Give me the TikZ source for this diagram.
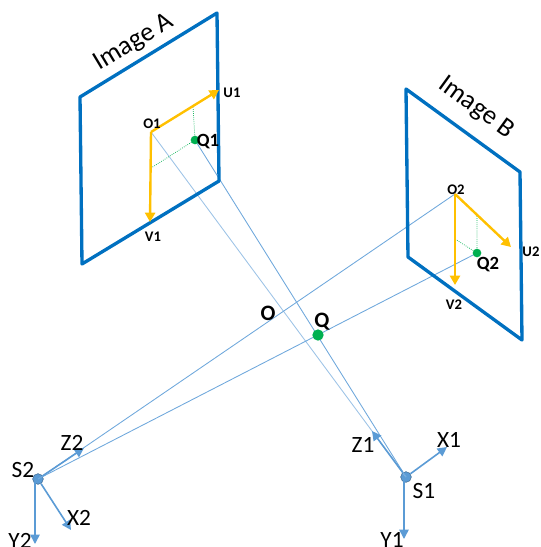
\documentclass[tikz,border=0pt]{standalone}
\usepackage{fontspec}
\setmainfont{Carlito}
\usetikzlibrary{arrows.meta}
\definecolor{panelblue}{HTML}{0070C0}
\definecolor{axisblue}{HTML}{5B9BD5}
\definecolor{rayblue}{HTML}{6FA8DC}
\definecolor{rayfaint}{HTML}{9DC3E6}
\definecolor{uvgold}{HTML}{FFC000}
\definecolor{ptgreen}{HTML}{00B050}
\tikzset{
  panel/.style={draw=panelblue,line width=2.5pt,line join=round},
  uvarrow/.style={draw=uvgold,line width=1.8pt,-{Triangle[length=7pt,width=7.5pt]}},
  guide/.style={draw=ptgreen,line width=0.55pt,densely dotted},
  ray/.style={draw=rayblue,line width=0.65pt},
  rayf/.style={draw=rayfaint,line width=0.65pt},
  axis/.style={draw=axisblue,line width=1.2pt,-{Triangle[length=7pt,width=7pt]}},
  ptdot/.style={circle,fill=ptgreen,inner sep=0pt,minimum size=7.5pt},
  sensor/.style={circle,fill=axisblue,draw=axisblue!70!black,line width=0.4pt,inner sep=0pt,minimum size=8pt},
  big/.style={font=\fontsize{20}{23}\selectfont,inner sep=0pt},
  mid/.style={font=\fontsize{17.5}{20}\selectfont,inner sep=0pt},
  small/.style={font=\bfseries\fontsize{11}{13}\selectfont,inner sep=0pt},
  smallq/.style={font=\bfseries\fontsize{14}{16}\selectfont,inner sep=0pt},
  bigq/.style={font=\bfseries\fontsize{16.5}{19}\selectfont,inner sep=0pt},
}
\begin{document}
\begin{tikzpicture}[x=0.75pt,y=-0.75pt]
\useasboundingbox (0,0) rectangle (540,547);
\clip (0,0) rectangle (540,547);
% panels
\coordinate (A1) at (80,97); \coordinate (A2) at (217,13); \coordinate (A3) at (219,181); \coordinate (A4) at (82,264);
\coordinate (B1) at (406,89); \coordinate (B2) at (520,172); \coordinate (B3) at (522,340); \coordinate (B4) at (408,257);
% image points
\coordinate (O1) at (151,132); \coordinate (U1) at (219,90); \coordinate (V1) at (150,222);
\coordinate (O2) at (455,194); \coordinate (U2) at (511,247); \coordinate (V2) at (455,285);
\coordinate (G1a) at (193,107); \coordinate (G1b) at (151,168);
\coordinate (G2a) at (477,214); \coordinate (G2b) at (455,239);
\node[sensor] (S1) at (406,477) {};
\node[sensor] (S2) at (38,479) {};
\coordinate (Y1s) at (404,480); \coordinate (Y2s) at (35,482);
\coordinate (Z1) at (372,431); \coordinate (X1) at (447,447); \coordinate (Y1) at (404,539);
\coordinate (Z2) at (84,448); \coordinate (X2) at (71,530); \coordinate (Y2) at (35,544);
\coordinate (Q1c) at (195,140); \coordinate (Q2c) at (477,253);
% rays
\draw[rayf] (S1.center) -- (O1);
\draw[ray] (S1.center) -- (Q1c);
\draw[ray] (S2.center) -- (O2);
\draw[ray] (S2.center) -- (Q2c);
% panels on top
\draw[panel] (A1) -- (A2) -- (A3) -- (A4) -- cycle;
\draw[panel] (B1) -- (B2) -- (B3) -- (B4) -- cycle;
% guides
\draw[guide] (G1a) -- (Q1c) -- (G1b);
\draw[guide] (G2a) -- (Q2c) -- (G2b);
% uv
\draw[uvarrow] (O1) -- (U1);
\draw[uvarrow] (O1) -- (V1);
\draw[uvarrow] (O2) -- (U2);
\draw[uvarrow] (O2) -- (V2);
% dots
\node[ptdot,minimum size=6.5pt] (Q1) at (Q1c) {};
\node[ptdot,minimum size=6.5pt] (Q2) at (Q2c) {};
\node[ptdot,minimum size=8.5pt] (Q) at (318,335) {};
% axes
\draw[axis] (S1) -- (Z1);
\draw[axis] (S1) -- (X1);
\draw[axis] (Y1s) -- (Y1);
\draw[axis] (S2) -- (Z2);
\draw[axis] (S2) -- (X2);
\draw[axis] (Y2s) -- (Y2);
% labels
\node[big,rotate=31] (tA) at (134,43) {Image A};
\node[big,rotate=-36] (tB) at (476,108) {Image B};
\node[small] (lO1) at (152,124) {O1};
\node[small] (lU1) at (232,93) {U1};
\node[small] (lV1) at (153,237) {V1};
\node[smallq] (lQ1) at (208,142) {Q1};
\node[small] (lO2) at (456,190) {O2};
\node[small] (lU2) at (531,252) {U2};
\node[small] (lV2) at (454,305) {V2};
\node[smallq] (lQ2) at (488,265) {Q2};
\node[bigq] (lO) at (268,313) {O};
\node[bigq] (lQ) at (322,322) {Q};
\node[mid] (lZ1) at (363,445) {Z1};
\node[mid] (lX1) at (449,440) {X1};
\node[mid] (lY1) at (392,540) {Y1};
\node[mid] (lS1) at (424,491) {S1};
\node[mid] (lS2) at (23,470) {S2};
\node[mid] (lZ2) at (72,443) {Z2};
\node[mid] (lX2) at (79,518) {X2};
\node[mid] (lY2) at (20,541) {Y2};
\end{tikzpicture}
\end{document}
